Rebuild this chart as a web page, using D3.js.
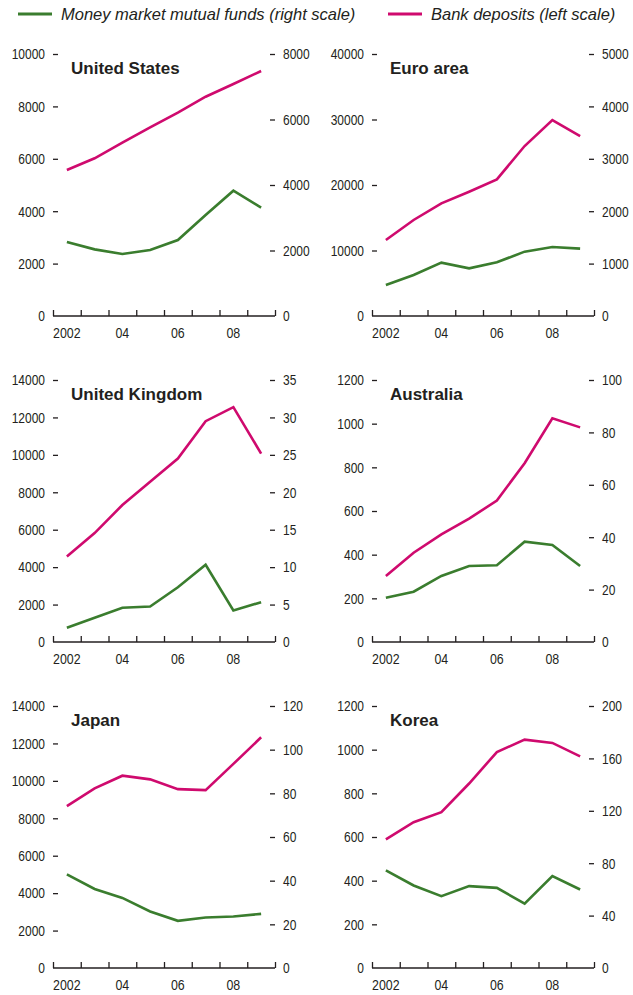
<!DOCTYPE html>
<html>
<head>
<meta charset="utf-8">
<script src="https://cdn.jsdelivr.net/npm/d3@7"></script>
<style>
  body { margin: 0; background: #fff; }
  svg text { fill: #231f20; }
  .tick text { font-family: "Liberation Sans", Arial, sans-serif; font-size: 15px; }
  .tick line { stroke: #231f20; }
</style>
</head>
<body>
<div id="chart"></div>
<script>
(function() {
var width = 633,
  height = 995;

var years = [2002, 2003, 2004, 2005, 2006, 2007, 2008, 2009];
var yearLabels = ["2002", "", "04", "", "06", "", "08", ""];

var titles = ["United States", "Euro area", "United Kingdom", "Australia", "Japan", "Korea"];

// bank deposits, left scale
var depUS = [5570, 6020, 6615, 7200, 7760, 8370, 8855, 9350];
var depEuro = [11600, 14660, 17200, 18980, 20860, 25950, 29920, 27480];
var depUK = [4570, 5820, 7320, 8560, 9800, 11800, 12550, 10070];
var depAus = [302, 409, 493, 565, 648, 819, 1025, 983];
var depJapan = [8655, 9595, 10275, 10080, 9557, 9503, 10907, 12327];
var depKorea = [589, 668, 714, 845, 989, 1046, 1031, 969];

// money market mutual funds, right scale
var mmfUS = [2260, 2035, 1893, 2015, 2320, 3084, 3827, 3310];
var mmfEuro = [592, 782, 1018, 910, 1025, 1228, 1317, 1285];
var mmfUK = [1.91, 3.24, 4.57, 4.74, 7.31, 10.32, 4.21, 5.32];
var mmfAus = [16.9, 19.2, 25.2, 29.0, 29.3, 38.3, 37.0, 29.0];
var mmfJapan = [42.9, 36.2, 32.1, 25.9, 21.6, 23.1, 23.6, 24.8];
var mmfKorea = [74.6, 63.0, 54.8, 62.5, 61.2, 49.1, 70.2, 59.9];

var leftTicks = [
  [0, 2000, 4000, 6000, 8000, 10000],
  [0, 10000, 20000, 30000, 40000],
  [0, 2000, 4000, 6000, 8000, 10000, 12000, 14000],
  [0, 200, 400, 600, 800, 1000, 1200],
  [0, 2000, 4000, 6000, 8000, 10000, 12000, 14000],
  [0, 200, 400, 600, 800, 1000, 1200]
];
var rightTicks = [
  [0, 2000, 4000, 6000, 8000],
  [0, 1000, 2000, 3000, 4000, 5000],
  [0, 5, 10, 15, 20, 25, 30, 35],
  [0, 20, 40, 60, 80, 100],
  [0, 20, 40, 60, 80, 100, 120],
  [0, 40, 80, 120, 160, 200]
];

var deposits = [depUS, depEuro, depUK, depAus, depJapan, depKorea];
var funds = [mmfUS, mmfEuro, mmfUK, mmfAus, mmfJapan, mmfKorea];

var green = "#3a7d2e",
  pink = "#cf0a6e";

var colX = [53, 372],
  rowY = [54, 380, 706],
  w = 222,
  h = 262,
  squeeze = 0.8; // narrow the tick labels, like a condensed face

var svg = d3.select("#chart")
  .append("svg")
  .attr("width", width)
  .attr("height", height)
  .style("font-family", "\"Liberation Sans\", Arial, sans-serif");

// legend
var legend = svg.append("g");
var legendItems = [
  {label: "Money market mutual funds (right scale)", color: green, x: 18},
  {label: "Bank deposits (left scale)", color: pink, x: 388}
];
legend.selectAll("line")
  .data(legendItems)
  .enter().append("line")
  .attr("x1", function(d) { return d.x; })
  .attr("x2", function(d) { return d.x + 34; })
  .attr("y1", 14)
  .attr("y2", 14)
  .attr("stroke", function(d) { return d.color; })
  .attr("stroke-width", 3);
legend.selectAll("text")
  .data(legendItems)
  .enter().append("text")
  .attr("x", function(d) { return d.x + 43; })
  .attr("y", 20)
  .style("font-size", "16.5px")
  .style("font-style", "italic")
  .text(function(d) { return d.label; });

var x = d3.scaleBand().domain(years).range([0, w]);
var xEdge = d3.scaleLinear().domain([2002, 2010]).range([0, w]);

titles.forEach(function(title, i) {
  var g = svg.append("g")
    .attr("transform", "translate(" + colX[i % 2] + "," + rowY[Math.floor(i / 2)] + ")");

  var lt = leftTicks[i], rt = rightTicks[i];
  var yL = d3.scaleLinear().domain([0, lt[lt.length - 1]]).range([h, 0]);
  var yR = d3.scaleLinear().domain([0, rt[rt.length - 1]]).range([h, 0]);

  var left = g.append("g")
    .call(d3.axisLeft(yL).tickValues(lt).tickSize(-5).tickFormat(d3.format("d")));
  left.selectAll(".tick text")
    .attr("x", -8 / squeeze)
    .attr("transform", "scale(" + squeeze + ",1)");

  var right = g.append("g")
    .attr("transform", "translate(" + w + ",0)")
    .call(d3.axisRight(yR).tickValues(rt).tickSize(-5).tickFormat(d3.format("d")));
  right.selectAll(".tick text")
    .attr("x", 8 / squeeze)
    .attr("transform", "scale(" + squeeze + ",1)");

  [left, right].forEach(function(a) {
    a.select(".domain").remove();
    a.selectAll(".tick").filter(function(d) { return d === 0; }).select("line").remove();
    a.selectAll(".tick line").attr("stroke-width", 1.3);
  });

  // x axis
  var xa = g.append("g")
    .attr("transform", "translate(0," + h + ")")
    .call(d3.axisBottom(xEdge).ticks(8).tickSize(-6).tickFormat(""));
  xa.select(".domain").attr("d", "M0,0H" + w).attr("stroke", "#231f20").attr("stroke-width", 1.3);
  xa.selectAll(".tick line").attr("stroke-width", 1.3);

  g.append("g")
    .selectAll("text")
    .data(years)
    .enter().append("text")
    .attr("transform", function(d) {
      return "translate(" + (x(d) + x.bandwidth() / 2) + "," + (h + 22) + ") scale(" + squeeze + ",1)";
    })
    .attr("text-anchor", "middle")
    .style("font-size", "15.5px")
    .text(function(d, j) { return yearLabels[j]; });

  g.append("text")
    .attr("x", 18)
    .attr("y", 20)
    .style("font-size", "17px")
    .style("font-weight", "bold")
    .text(title);

  var lineL = d3.line()
    .x(function(d, j) { return x(years[j]) + x.bandwidth() / 2; })
    .y(function(d) { return yL(d); });
  var lineR = d3.line()
    .x(function(d, j) { return x(years[j]) + x.bandwidth() / 2; })
    .y(function(d) { return yR(d); });

  g.append("path")
    .datum(funds[i])
    .attr("d", lineR)
    .attr("fill", "none")
    .attr("stroke", green)
    .attr("stroke-width", 2.6);

  g.append("path")
    .datum(deposits[i])
    .attr("d", lineL)
    .attr("fill", "none")
    .attr("stroke", pink)
    .attr("stroke-width", 2.6);
});
})();
</script>
</body>
</html>
